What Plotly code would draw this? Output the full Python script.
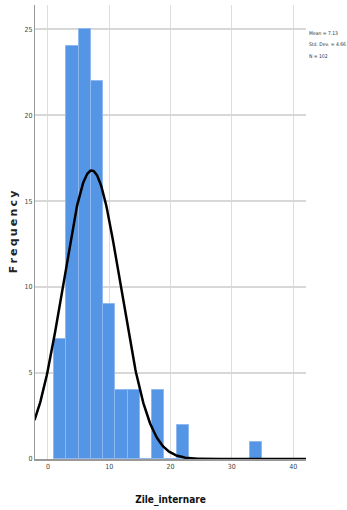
import numpy as np
import plotly.graph_objects as go

# Histogram data (bin centers, width 2)
bin_centers = [2, 4, 6, 8, 10, 12, 14, 16, 18, 20, 22, 24, 26, 28, 30, 32, 34]
counts = [7, 24, 25, 22, 9, 4, 4, 0, 4, 0, 2, 0, 0, 0, 0, 0, 1]
bin_width = 2

mean_val = 7.13
std_val = 4.66
n_val = 102
curve_scale = 196  # amplitude factor of fitted normal curve as drawn

x_ticks = [0, 10, 20, 30, 40]
y_ticks = [0, 5, 10, 15, 20, 25]

stats_lines = [f"Mean = {mean_val}", f"Std. Dev. = {std_val}", f"N = {n_val}"]

xc = np.linspace(-2.2, 42.2, 400)
yc = curve_scale * np.exp(-0.5 * ((xc - mean_val) / std_val) ** 2) / (std_val * np.sqrt(2 * np.pi))

fig = go.Figure()
fig.add_trace(go.Bar(
    x=bin_centers, y=counts, width=[bin_width] * len(counts),
    marker=dict(color="#5595E6", line=dict(color="#8FB8F0", width=1)),
    showlegend=False, hoverinfo="skip",
))
fig.add_trace(go.Scatter(
    x=xc, y=yc, mode="lines", line=dict(color="black", width=2.5),
    showlegend=False, hoverinfo="skip",
))

narrow = "DejaVu Sans Condensed, Liberation Sans Narrow, sans-serif"

fig.update_layout(
    width=347, height=510,
    margin=dict(l=35, r=41, t=5, b=51),
    paper_bgcolor="white", plot_bgcolor="white",
    bargap=0,
    xaxis=dict(
        range=[-2.12, 42.1], tickvals=x_ticks, ticks="",
        showgrid=True, gridcolor="#DDDDDD", gridwidth=1.2,
        zeroline=False, showline=True, linecolor="#999999", linewidth=1.5,
        tickfont=dict(family=narrow, size=7, color="#444444"),
        title=dict(text="<b>Zile_internare</b>", font=dict(family=narrow, size=10, color="#111111"), standoff=26),
    ),
    yaxis=dict(
        range=[0, 26.4], tickvals=y_ticks, ticks="",
        showgrid=True, gridcolor="#D8D8D8", gridwidth=1.5,
        zeroline=False, showline=True, linecolor="#999999", linewidth=1.2,
        tickfont=dict(family=narrow, size=7, color="#444444"),
        title=dict(text="<b>F\u2009r\u2009e\u2009q\u2009u\u2009e\u2009n\u2009c\u2009y</b>",
                   font=dict(family="DejaVu Sans, sans-serif", size=11, color="#222222"), standoff=4),
    ),
    font=dict(family=narrow),
)

# stats box lines at ~33, 44, 56 px from top
for i, line in enumerate(stats_lines):
    fig.add_annotation(
        xref="paper", yref="paper", x=1.004, y=(459 - (33 + 11.5 * i)) / 454,
        xanchor="left", yanchor="middle",
        text=line, showarrow=False, align="left",
        font=dict(family=narrow, size=5, color="#333333"),
    )

fig.write_html("out.html")
